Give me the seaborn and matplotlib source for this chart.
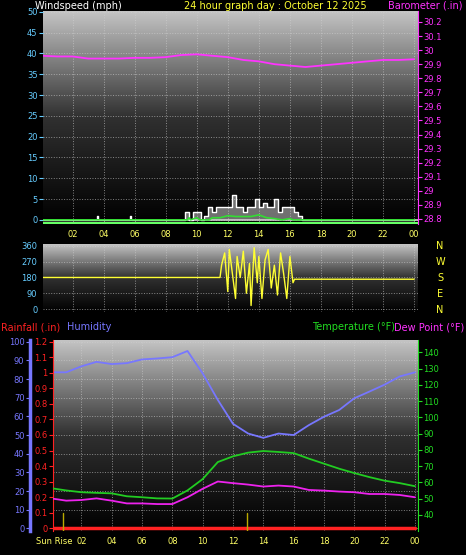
import numpy as np
import pandas as pd
import seaborn as sns
import matplotlib
matplotlib.use("Agg")
import matplotlib.pyplot as plt
from matplotlib.colors import LinearSegmentedColormap

sns.set_style("dark")
plt.rcParams['font.family'] = ['DejaVu Sans']

hours = list(range(25))
barometer = [29.96, 29.955, 29.955, 29.94, 29.94, 29.94, 29.945, 29.945, 29.95, 29.965, 29.97, 29.96,
             29.95, 29.93, 29.92, 29.90, 29.89, 29.88, 29.89, 29.90, 29.91, 29.92, 29.93, 29.93, 29.935]
wind_t = [0, 3.55, 3.6, 3.65, 5.65, 5.7, 5.75, 9.2, 9.25, 9.5, 9.75, 10, 10.25, 10.5, 10.75, 11, 11.25, 11.5, 11.75,
          12, 12.25, 12.5, 12.75, 13, 13.25, 13.5, 13.75, 14, 14.25, 14.5, 14.75, 15, 15.25, 15.5,
          15.75, 16, 16.25, 16.5, 16.75, 24]
gust = [0, 0, 1, 0, 0, 1, 0, 0, 2, 0, 2, 2, 0, 1, 3, 2, 3, 3, 3, 3, 6, 3, 3, 2, 3, 3, 5, 3, 4, 3, 3, 5, 2, 3,
        3, 3, 2, 1, 0, 0]
avg_t = [0, 9.4, 9.5, 9.6, 10, 10.2, 10.8, 11, 11.5, 12, 12.5, 13, 13.5, 14, 14.5, 15, 15.5, 16, 16.2, 24]
avg_w = [0, 0, 0.5, 0, 0.5, 0, 0, 0.5, 0.5, 1, 0.8, 0.8, 0.8, 1.2, 0.5, 0.3, 0, 0.3, 0, 0]
dir_t = [0, 11.5, 11.6, 11.8, 12.0, 12.1, 12.3, 12.5, 12.6, 12.8, 13.0, 13.2, 13.4, 13.5, 13.7, 13.9,
         14.0, 14.2, 14.4, 14.6, 14.8, 15.0, 15.2, 15.4, 15.6, 15.8, 16.0, 16.2, 16.3, 24]
wind_dir = [180, 180, 250, 320, 100, 340, 200, 60, 300, 180, 330, 90, 260, 20, 350, 150, 300, 60,
            280, 340, 120, 250, 80, 320, 200, 60, 300, 150, 170, 170]
humidity = [83.6, 83.6, 86.8, 89.2, 88, 88.5, 90.5, 91, 91.7, 95, 83, 68.8, 56, 50.8, 48.5, 50.8, 50,
            55.3, 59.8, 63.4, 69.7, 73.3, 77, 81.4, 83.6]
temperature = [56.4, 55, 53.9, 53.5, 53.2, 51.4, 50.8, 50.1, 50, 55, 62, 72.5, 76, 78.3, 79.3, 78.7, 78,
               74.6, 71.5, 68.4, 65.7, 63.2, 61, 59.5, 57.6]
dewpoint = [50.1, 48.7, 49.1, 50.1, 48.7, 47, 47, 46.6, 46.6, 50.8, 56, 60.5, 59.5, 58.6, 57.4, 58, 57.4,
            55.3, 54.9, 54.3, 53.9, 52.8, 52.8, 52.2, 50.8]
rain = [0] * 25
sun_events = [0.8, 12.9]
xtick_pos = list(range(2, 25, 2))
xtick_lab = ["02", "04", "06", "08", "10", "12", "14", "16", "18", "20", "22", "00"]

W, H = 466, 555
fig = plt.figure(figsize=(W / 100, H / 100), dpi=100, facecolor="black")
cmap = LinearSegmentedColormap.from_list("g", ["#000000", "#303030", "#c4c4c4"])
fs = 6.0
tfs = 7.0

def px(l, t, r, b):
    return [l / W, 1 - b / H, (r - l) / W, (b - t) / H]

def bg(ax):
    grad = np.linspace(0, 1, 256).reshape(-1, 1)
    ax.imshow(grad, aspect="auto", extent=[0, 1, 0, 1], transform=ax.transAxes, cmap=cmap,
              origin="lower", zorder=0)
    ax.set_facecolor("black")

def style(ax, color):
    for s in ax.spines.values():
        s.set_visible(False)
    ax.tick_params(colors=color, labelsize=fs, length=3, width=0.8, pad=1)

# ---- Panel 1
ax1 = fig.add_axes(px(43, 11, 418, 224))
bg(ax1)
ax1.set_xlim(0.1, 24.25)
ax1.set_ylim(-1, 50.2)
sns.lineplot(x=[0, 24.3], y=[0, 0], ax=ax1, color="#cfcfcf", lw=1.2)
ax1.fill_between(wind_t, gust, step="post", color="#dddddd", alpha=0.5, lw=0)
ax1.step(wind_t, gust, where="post", color="white", lw=1)
sns.lineplot(x=avg_t, y=avg_w, ax=ax1, color="#33dd33", lw=1.2)
ax1.axhline(-0.8, color="#66ff66", lw=1.5)
ax1.set_yticks(range(0, 51, 5))
ax1.set_xticks(xtick_pos, xtick_lab)
ax1.grid(True, color="#d0d0d0", ls=":", lw=0.7, alpha=0.6)
style(ax1, "#66ccff")
ax1.tick_params(axis="x", colors="#ffff66")
ax1b = ax1.twinx()
ax1b.set_ylim(28.764, 30.278)
sns.lineplot(x=hours, y=barometer, ax=ax1b, color="#ff33ff", lw=1.3)
ax1b.set_yticks(np.round(np.arange(28.8, 30.21, 0.1), 1))
ax1b.set_yticklabels([f"{v:g}" for v in np.round(np.arange(28.8, 30.21, 0.1), 1)])
style(ax1b, "#ff33ff")
ax1b.spines["right"].set_visible(True); ax1b.spines["right"].set_color("#ff33ff")
for a in (ax1, ax1b):
    a.set_xlabel(""); a.set_ylabel("")
fig.text(35 / W, 1 - 6 / H, "Windspeed (mph)", color="white", fontsize=tfs, va="center")
fig.text(275 / W, 1 - 6 / H, "24 hour graph day : October 12 2025", color="#ffff33", fontsize=tfs,
         va="center", ha="center")
fig.text(462 / W, 1 - 6 / H, "Barometer (.in)", color="#ff33ff", fontsize=tfs, va="center", ha="right")

# ---- Panel 2
ax2 = fig.add_axes(px(43, 244, 418, 312))
bg(ax2)
ax2.set_xlim(0.1, 24.25)
ax2.set_ylim(-17, 371)
sns.lineplot(x=dir_t, y=wind_dir, ax=ax2, color="#ffff33", lw=1)
ax2.set_yticks([0, 90, 180, 270, 360])
ax2.set_xticks(xtick_pos, [])
ax2.grid(True, color="#d0d0d0", ls=":", lw=0.7, alpha=0.6)
style(ax2, "#66ccff")
ax2.tick_params(axis="x", length=0)
ax2.set_xlabel(""); ax2.set_ylabel("")
for lab, y in zip("NWSEN", [246, 262, 278, 294, 310]):
    fig.text(440 / W, 1 - y / H, lab, color="#ffff33", fontsize=tfs, ha="center", va="center")

# ---- Panel 3
ax3 = fig.add_axes(px(53, 340, 418, 531))
bg(ax3)
ax3.set_xlim(0.13, 24.2)
ax3.set_ylim(-1.4, 100.9)
sns.lineplot(x=hours, y=humidity, ax=ax3, color="#7777ff", lw=1.3)
ax3.set_yticks(range(0, 101, 10))
ax3.set_xticks(xtick_pos, xtick_lab)
ax3.grid(True, color="#d0d0d0", ls=":", lw=0.7, alpha=0.6)
style(ax3, "#7777ff")
ax3.tick_params(axis="x", colors="#ffff66")
ax3.spines["left"].set_visible(True)
ax3.spines["left"].set_position(("axes", -23 / 365))
ax3.spines["left"].set_color("#7777ff"); ax3.spines["left"].set_linewidth(2.5)
ax3r = ax3.twinx()
ax3r.yaxis.set_label_position("left"); ax3r.yaxis.tick_left()
ax3r.set_ylim(-0.017, 1.21)
sns.lineplot(x=hours, y=rain, ax=ax3r, color="#ff2222", lw=2.5)
for s in sun_events:
    ax3r.plot([s, s], [-0.017, 0.1], color="#bbaa00", lw=1)
ax3r.set_yticks(np.round(np.arange(0, 1.21, 0.1), 1))
ax3r.set_yticklabels([f"{v:g}" for v in np.round(np.arange(0, 1.21, 0.1), 1)])
style(ax3r, "#ff2222")
ax3r.spines["left"].set_visible(True); ax3r.spines["left"].set_color("#ff2222")
ax3t = ax3.twinx()
ax3t.set_ylim(30, 147.7)
sns.lineplot(x=hours, y=temperature, ax=ax3t, color="#22cc22", lw=1.3)
sns.lineplot(x=hours, y=dewpoint, ax=ax3t, color="#ee22ee", lw=1.3)
ax3t.set_yticks(range(40, 141, 10))
style(ax3t, "#22dd22")
ax3t.spines["right"].set_visible(True); ax3t.spines["right"].set_color("#22dd22")
for a in (ax3, ax3r, ax3t):
    a.set_xlabel(""); a.set_ylabel("")
fig.text(72 / W, 1 - 541 / H, "Sun Rise", color="#ffff66", fontsize=fs, va="center", ha="right")
fig.text(1 / W, 1 - 327 / H, "Rainfall (.in)", color="#ff2222", fontsize=tfs, va="center")
fig.text(67 / W, 1 - 327 / H, "Humidity", color="#7777ff", fontsize=tfs, va="center")
fig.text(312 / W, 1 - 327 / H, "Temperature (°F)", color="#22dd22", fontsize=tfs, va="center")
fig.text(464 / W, 1 - 327 / H, "Dew Point (°F)", color="#ff33ff", fontsize=tfs, va="center", ha="right")

fig.savefig("out.png", dpi=100, facecolor="black")
